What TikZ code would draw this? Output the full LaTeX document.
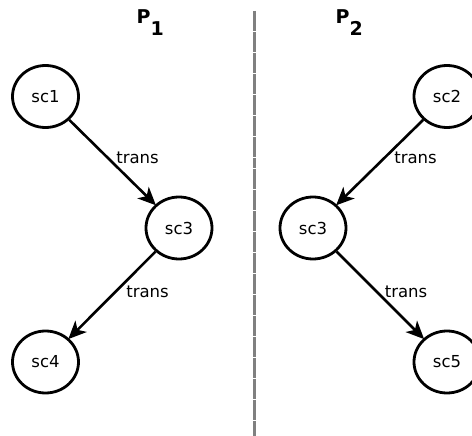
\documentclass[tikz,border=0pt]{standalone}
\usepackage{fontspec}
\setmainfont{DejaVu Sans}
\usetikzlibrary{shapes.geometric,arrows.meta}
\begin{document}
\begin{tikzpicture}[x=1pt,y=-1pt,
  state/.style={draw,ellipse,line width=2.8pt,minimum width=66pt,minimum height=62pt,inner sep=0pt,font=\fontsize{16.5}{19}\selectfont},
  edge/.style={line width=2.6pt,-{Stealth[length=18pt,width=16pt,inset=5pt]},shorten >=-1pt},
  lbl/.style={font=\fontsize{16.5}{19}\selectfont,inner sep=0pt},
  title/.style={font=\fontsize{19}{22}\bfseries\selectfont,inner sep=0pt,anchor=base west}]
\useasboundingbox (0,0) rectangle (472,436);
\clip (0,0) rectangle (472,436);
\draw[line width=3pt,gray,dash pattern=on 10pt off 0.5pt] (254,11) coordinate (dtop) -- (254,436) coordinate (dbot);
\node[title] (p1) at (136.5,23.5) {P\raisebox{-12pt}{1}};
\node[title] (p2) at (335.5,23.5) {P\raisebox{-12pt}{2}};
\node[state] (sc1) at (45.5,96.5) {sc1};
\node[state] (sc3a) at (179,228) {sc3};
\node[state] (sc4) at (45.5,362) {sc4};
\node[state] (sc2) at (447,96.5) {sc2};
\node[state] (sc3b) at (313,228) {sc3};
\node[state] (sc5) at (447,362) {sc5};
\draw[edge] (sc1) -- (sc3a);
\draw[edge] (sc3a) -- (sc4);
\draw[edge] (sc2) -- (sc3b);
\draw[edge] (sc3b) -- (sc5);
\node[lbl] (t1) at (137.5,158) {trans};
\node[lbl] (t2) at (147.5,292) {trans};
\node[lbl] (t3) at (415.5,158) {trans};
\node[lbl] (t4) at (406,292) {trans};
\end{tikzpicture}
\end{document}
